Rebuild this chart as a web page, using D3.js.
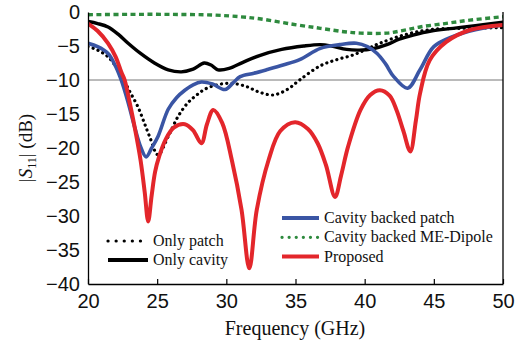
<!DOCTYPE html>
<html>
<head>
<meta charset="utf-8">
<script src="https://cdn.jsdelivr.net/npm/d3@7"></script>
<style>
  body { margin: 0; background: #fff; }
  svg { font-family: "Liberation Serif", "Times New Roman", serif; }
</style>
</head>
<body>
<div id="chart"></div>
<script>
// values: [frequency GHz, |S11| dB]
const onlyPatch = [[20,-5.1],[20.7,-5.6],[21.45,-6.6],[22.1,-8.3],[22.65,-10.25],[23.1,-12],[23.6,-13.9],[24.05,-16.2],[24.45,-18.3],[25.06,-21],[25.8,-18.3],[26.5,-15.4],[27.2,-13.4],[27.8,-12.3],[28.5,-11.3],[29.6,-10.6],[30.5,-10.5],[31.5,-11.0],[32.4,-11.8],[33.4,-12.2],[34.4,-11.4],[35.3,-10],[36.8,-7.9],[38,-7.0],[39.2,-6.3],[40.2,-5.4],[41.1,-4.6],[42.8,-3.4],[44.7,-2.6],[47,-2.4],[50,-2.3]];
const onlyCavity = [[20,-1.4],[20.7,-1.7],[21.45,-2.2],[22.2,-3.3],[22.9,-4.6],[23.8,-6.1],[24.8,-7.5],[25.8,-8.5],[26.75,-8.8],[27.6,-8.4],[28.4,-7.5],[28.9,-7.8],[29.4,-8.5],[30.2,-8.3],[31.2,-7.4],[32.4,-6.4],[34,-5.5],[35.6,-5.0],[36.8,-4.8],[37.6,-5.0],[38.7,-5.5],[39.6,-5.6],[40.6,-5.4],[41.6,-4.8],[42.5,-4.0],[43.5,-3.4],[44.8,-2.8],[46.4,-2.4],[48,-2.0],[50,-1.5]];
const cavityPatch = [[20,-4.6],[20.7,-5.1],[21.45,-6.1],[22,-8],[22.4,-10],[22.9,-13.3],[23.37,-16.9],[23.8,-19.8],[24.2,-21.3],[24.6,-20],[25.06,-18.3],[25.8,-14.3],[26.4,-12.6],[27.0,-11.5],[27.6,-10.7],[28.2,-10.3],[29.0,-10.6],[29.9,-11.4],[30.5,-10.4],[31.0,-9.5],[32.0,-9.0],[32.9,-8.5],[34.1,-7.8],[35.3,-7.0],[36.8,-5.35],[38.2,-4.8],[39.4,-4.6],[40.2,-5.1],[40.9,-6.1],[41.5,-7.6],[42.1,-9.5],[43.1,-11.2],[44.0,-8.5],[45.0,-5.1],[46.4,-3.6],[48,-2.6],[50,-1.9]];
const meDipole = [[20,-0.4],[23,-0.35],[26,-0.35],[29.1,-0.45],[31,-0.7],[32.4,-1.0],[34.8,-1.8],[36.8,-2.4],[38.5,-2.9],[39.7,-3.1],[41.6,-3.1],[42.8,-2.7],[44,-2.2],[45.8,-1.7],[47.6,-1.2],[50,-0.7]];
const proposed = [[20,-1.7],[20.7,-2.8],[21.45,-4.6],[22,-6.6],[22.4,-8.8],[22.65,-10],[23.0,-13.2],[23.37,-16.9],[23.8,-21.8],[24.1,-26.5],[24.35,-30.8],[24.6,-27],[24.85,-23.5],[25.15,-21.2],[25.6,-18.8],[26.2,-17],[27.0,-16.5],[27.6,-17.4],[28.2,-19.3],[28.6,-16.5],[29.06,-14.4],[29.7,-16.3],[30.4,-21.8],[31.1,-29.1],[31.66,-37.7],[32.2,-29.1],[33.05,-21.8],[33.9,-17.5],[34.97,-16.2],[35.9,-17.2],[36.6,-19.3],[37.2,-22.5],[37.86,-27.2],[38.3,-24],[38.8,-19.8],[39.7,-14.4],[40.4,-12.2],[41.1,-11.5],[41.8,-12.3],[42.3,-14.4],[42.8,-17.5],[43.3,-20.5],[43.7,-16],[44.0,-12],[44.7,-7.1],[45.9,-4.4],[47.6,-2.65],[50,-1.9]];

const xTicks = [20, 25, 30, 35, 40, 45, 50];
const yTicks = [0, -5, -10, -15, -20, -25, -30, -35, -40];

const series = [
  { name: 'Only patch', data: onlyPatch, color: '#000', width: 3.2, dash: '0.1 5.2', cap: 'round', key: '0.1 8' },
  { name: 'Only cavity', data: onlyCavity, color: '#000', width: 3.4, dash: null, cap: 'round' },
  { name: 'Cavity backed patch', data: cavityPatch, color: '#3a55a4', width: 3.6, dash: null, cap: 'round' },
  { name: 'Cavity backed ME-Dipole', data: meDipole, color: '#2e8a3e', width: 3.4, dash: '5 3.5', cap: 'butt', key: '0.1 7' },
  { name: 'Proposed', data: proposed, color: '#e3262b', width: 4, dash: null, cap: 'round' },
];

const W = 524, H = 344;
const margin = { top: 12, right: 21, bottom: 60, left: 88 };
const width = W - margin.left - margin.right;
const height = H - margin.top - margin.bottom;

const svg = d3.select('#chart').append('svg')
    .attr('width', W)
    .attr('height', H);

const g = svg.append('g')
    .attr('transform', `translate(${margin.left},${margin.top})`);

const x = d3.scaleLinear().domain([20, 50]).range([0, width]);
const y = d3.scaleLinear().domain([-40, 0]).range([height, 0]);

// -10 dB reference line
g.append('line')
    .attr('x1', 0).attr('x2', width)
    .attr('y1', y(-10)).attr('y2', y(-10))
    .attr('stroke', '#777').attr('stroke-width', 1);

const line = d3.line()
    .x(d => x(d[0]))
    .y(d => y(d[1]))
    .curve(d3.curveCatmullRom.alpha(0.5));

g.append('clipPath').attr('id', 'clip')
  .append('rect').attr('x', 0).attr('y', -3).attr('width', width).attr('height', height + 3);

series.forEach(s => {
  g.append('path')
      .datum(s.data)
      .attr('clip-path', 'url(#clip)')
      .attr('fill', 'none')
      .attr('stroke', s.color)
      .attr('stroke-width', s.width)
      .attr('stroke-linecap', s.cap)
      .attr('stroke-dasharray', s.dash)
      .attr('d', line);
});

// axes
const fmt = d => d < 0 ? '\u2212' + Math.abs(d) : String(d);

const xAxis = g.append('g')
    .attr('transform', `translate(0,${height})`)
    .call(d3.axisBottom(x).tickValues(xTicks).tickSizeInner(-5).tickSizeOuter(0).tickPadding(10).tickFormat(fmt));
xAxis.select('.domain').attr('stroke', '#000').attr('stroke-width', 1.3);
xAxis.selectAll('.tick line').attr('stroke', '#000').attr('stroke-width', 1.2);
xAxis.selectAll('.tick text').attr('font-size', 20).attr('fill', '#111');

const yAxis = g.append('g')
    .call(d3.axisLeft(y).tickValues(yTicks).tickSize(0).tickPadding(8).tickFormat(fmt));
yAxis.select('.domain').attr('stroke', '#000').attr('stroke-width', 1.3);
yAxis.selectAll('.tick text').attr('font-size', 20).attr('fill', '#111');

// right border
g.append('line')
    .attr('x1', width).attr('x2', width)
    .attr('y1', 0).attr('y2', height)
    .attr('stroke', '#000').attr('stroke-width', 1.3);

// axis titles
svg.append('text')
    .attr('x', 295)
    .attr('y', 335)
    .attr('text-anchor', 'middle')
    .attr('font-size', 20)
    .attr('fill', '#111')
    .text('Frequency (GHz)');

const yl = svg.append('text')
    .attr('transform', `translate(32,148) rotate(-90)`)
    .attr('text-anchor', 'middle')
    .attr('font-size', 19)
    .attr('fill', '#111');
yl.append('tspan').text('|');
yl.append('tspan').attr('font-style', 'italic').text('S');
yl.append('tspan').attr('font-size', 12).attr('dy', 4).text('11');
yl.append('tspan').attr('dy', -4).text('| (dB)');

// legends
const drawLegend = (items, x0, y0, step, len) => {
  items.forEach((s, i) => {
    const yy = y0 + i * step;
    svg.append('line')
        .attr('x1', x0).attr('x2', x0 + len)
        .attr('y1', yy).attr('y2', yy)
        .attr('stroke', s.color)
        .attr('stroke-width', s.key ? 3.2 : 4)
        .attr('stroke-linecap', s.key ? 'round' : 'butt')
        .attr('stroke-dasharray', s.key || null);
    svg.append('text')
        .attr('x', x0 + len + 5)
        .attr('y', yy + 5)
        .attr('font-size', 16)
        .attr('fill', '#111')
        .text(s.name);
  });
};

drawLegend([series[0], series[1]], 108, 241, 19, 40);
drawLegend([series[2], series[3], series[4]], 282, 218, 19.3, 37);
</script>
</body>
</html>
